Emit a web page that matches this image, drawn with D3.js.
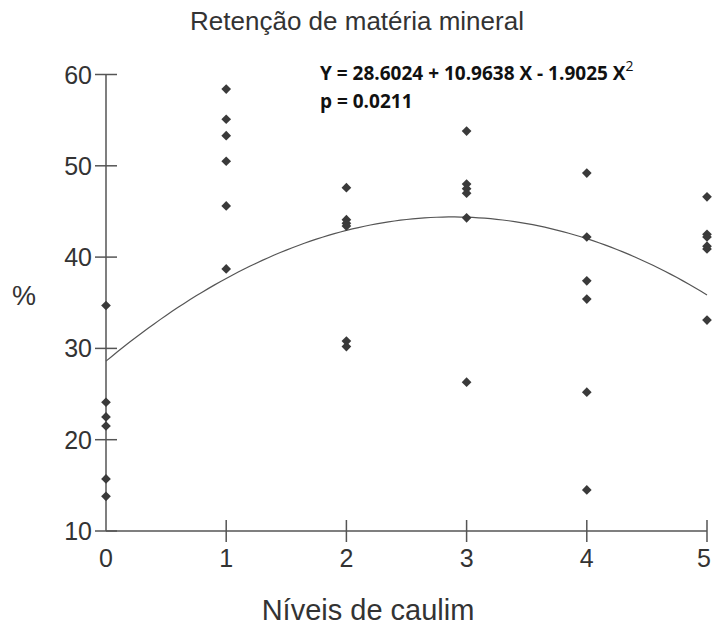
<!DOCTYPE html>
<html>
<head>
  <meta charset="UTF-8">
  <style>
    body {
      margin: 0;
      background: #fff;
      font-family: 'Liberation Sans', Arial, sans-serif;
    }
    .tick-label {
      fill: #333;
      font-size: 25px;
    }
    .eq {
      font-family: 'Open Sans', sans-serif;
      font-weight: 700;
      fill: #111;
    }
  </style>
  <script src="https://d3js.org/d3.v7.min.js"></script>
</head>
<body>
<svg id="chart" width="712" height="625"></svg>
<script>
const levels = [0, 1, 2, 3, 4, 5];
const yTicks = [10, 20, 30, 40, 50, 60];
const retention0 = [34.7, 24.1, 22.5, 21.5, 15.7, 13.8];
const retention1 = [58.4, 55.1, 53.3, 50.5, 45.6, 38.7];
const retention2 = [47.6, 44.1, 43.7, 43.4, 30.8, 30.2];
const retention3 = [53.8, 48.0, 47.5, 47.0, 44.3, 26.3];
const retention4 = [49.2, 42.2, 37.4, 35.4, 25.2, 14.5];
const retention5 = [46.6, 42.5, 42.2, 41.2, 40.9, 33.1];
const coefs = [28.6024, 10.9638, -1.9025];

const svg = d3.select('#chart');

const x = d3.scaleLinear().domain([0, 5]).range([106, 707]);
const y = d3.scaleLinear().domain([10, 60]).range([531, 74.5]);

const axisColor = '#555';

// title
svg.append('text')
  .attr('x', 357)
  .attr('y', 30)
  .attr('text-anchor', 'middle')
  .style('font-size', '26px')
  .style('fill', '#333')
  .text('Retenção de matéria mineral');

// y axis: line plus ticks crossing it
const yAxis = svg.append('g');
yAxis.append('line')
  .attr('x1', x(0)).attr('x2', x(0))
  .attr('y1', y(60)).attr('y2', y(10))
  .attr('stroke', axisColor).attr('stroke-width', 1.5);
yAxis.selectAll('.yt')
  .data(yTicks)
  .join('line')
  .attr('x1', x(0) - 11).attr('x2', x(0) + 11)
  .attr('y1', d => y(d)).attr('y2', d => y(d))
  .attr('stroke', axisColor).attr('stroke-width', 1.5);
yAxis.selectAll('.tick-label')
  .data(yTicks)
  .join('text')
  .attr('class', 'tick-label')
  .attr('x', 92)
  .attr('y', d => y(d) + 9)
  .attr('text-anchor', 'end')
  .text(d => d);

// x axis
const xAxis = svg.append('g');
xAxis.append('line')
  .attr('x1', x(0)).attr('x2', x(5))
  .attr('y1', y(10)).attr('y2', y(10))
  .attr('stroke', axisColor).attr('stroke-width', 1.5);
xAxis.selectAll('.xt')
  .data(levels.slice(1))
  .join('line')
  .attr('x1', d => x(d)).attr('x2', d => x(d))
  .attr('y1', y(10) - 11).attr('y2', y(10) + 11)
  .attr('stroke', axisColor).attr('stroke-width', 1.5);
xAxis.selectAll('.tick-label')
  .data(levels)
  .join('text')
  .attr('class', 'tick-label')
  .attr('x', d => Math.min(x(d), 704))
  .attr('y', 567)
  .attr('text-anchor', 'middle')
  .text(d => d);

// axis titles
svg.append('text')
  .attr('x', 368)
  .attr('y', 620)
  .attr('text-anchor', 'middle')
  .style('font-size', '29px')
  .style('fill', '#333')
  .text('Níveis de caulim');

svg.append('text')
  .attr('x', 24)
  .attr('y', 305)
  .attr('text-anchor', 'middle')
  .style('font-size', '27px')
  .style('fill', '#333')
  .text('%');

// fitted quadratic
const fit = v => coefs[0] + coefs[1] * v + coefs[2] * v * v;
const curveX = d3.range(0, 5.001, 0.05);
svg.append('path')
  .datum(curveX)
  .attr('fill', 'none')
  .attr('stroke', '#555')
  .attr('stroke-width', 1.2)
  .attr('d', d3.line().x(d => x(d)).y(d => y(fit(d))));

// observations
const groups = [retention0, retention1, retention2, retention3, retention4, retention5];
const points = [];
groups.forEach((vals, i) => vals.forEach(v => points.push({ lvl: levels[i], v })));

const diamond = d3.symbol().type(d3.symbolDiamond2).size(60);
svg.append('g')
  .selectAll('path')
  .data(points)
  .join('path')
  .attr('transform', d => `translate(${x(d.lvl)},${y(d.v)})`)
  .attr('d', diamond)
  .attr('fill', '#3a3a3a');

// equation
const eq = svg.append('text').attr('class', 'eq').attr('x', 320).attr('y', 80).style('font-size', '19px');
eq.append('tspan').text('Y = 28.6024 + 10.9638 X - 1.9025 X');
eq.append('tspan').attr('dy', -9).style('font-size', '14px').style('font-weight', 400).text('2');

svg.append('text')
  .attr('class', 'eq')
  .attr('x', 320)
  .attr('y', 108)
  .style('font-size', '19px')
  .text('p = 0.0211');
</script>
</body>
</html>
